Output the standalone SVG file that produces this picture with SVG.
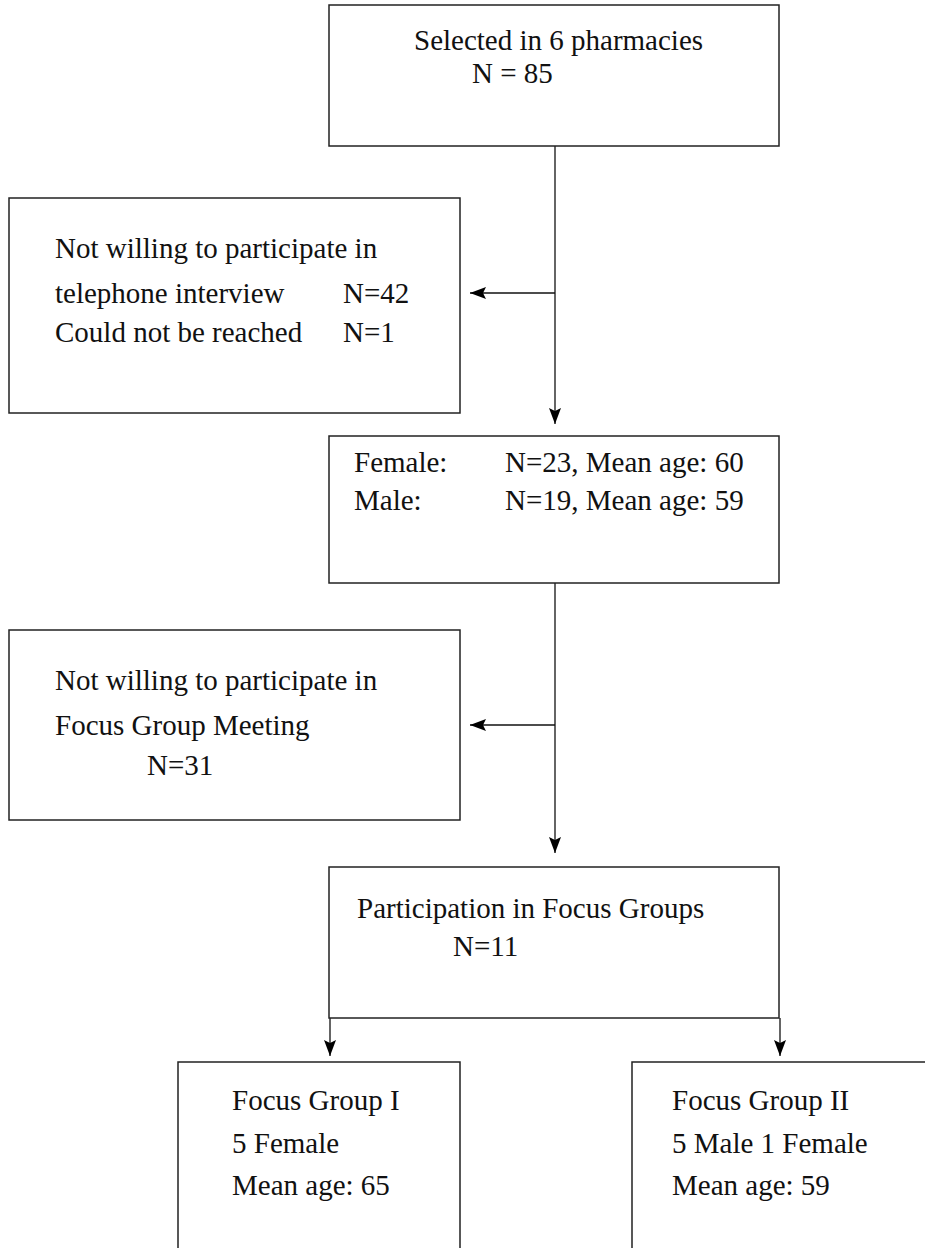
<svg xmlns="http://www.w3.org/2000/svg" width="925" height="1248" viewBox="0 0 925 1248">
<defs>
<style>
.box{fill:#fff;stroke:#222;stroke-width:1.5}
.t{font-family:"Liberation Serif","Times New Roman",serif;font-size:29px;fill:#111}
.c{fill:none;stroke:#111;stroke-width:1.3}
</style>
<marker id="ah" viewBox="0 0 16 12" refX="16" refY="6" markerWidth="16" markerHeight="12" markerUnits="userSpaceOnUse" orient="auto">
<path d="M0,0 L16,6 L0,12 L3,6 z" fill="#000"/>
</marker>
</defs>
<rect width="925" height="1248" fill="#fff"/>
<g id="connectors">
<line class="c" x1="555" y1="146" x2="555" y2="424" marker-end="url(#ah)"/>
<line class="c" x1="555" y1="293" x2="470" y2="293" marker-end="url(#ah)"/>
<line class="c" x1="555" y1="583" x2="555" y2="853" marker-end="url(#ah)"/>
<line class="c" x1="555" y1="725" x2="470" y2="725" marker-end="url(#ah)"/>
<line class="c" x1="330" y1="1018" x2="330" y2="1056" marker-end="url(#ah)"/>
<line class="c" x1="780" y1="1018" x2="780" y2="1056" marker-end="url(#ah)"/>
</g>
<g id="n_selected">
<rect class="box" x="329" y="5" width="450" height="141"/>
<text class="t" x="414" y="50">Selected in 6 pharmacies</text>
<text class="t" x="472" y="83">N = 85</text>
</g>
<g id="n_excluded1">
<rect class="box" x="9" y="198" width="451" height="215"/>
<text class="t" x="55" y="258">Not willing to participate in</text>
<text class="t" x="55" y="303">telephone interview</text>
<text class="t" x="343" y="303">N=42</text>
<text class="t" x="55" y="342">Could not be reached</text>
<text class="t" x="343" y="342">N=1</text>
</g>
<g id="n_interviewed">
<rect class="box" x="329" y="436" width="450" height="147"/>
<text class="t" x="354" y="472">Female:</text>
<text class="t" x="505" y="472">N=23, Mean age: 60</text>
<text class="t" x="354" y="510">Male:</text>
<text class="t" x="505" y="510">N=19, Mean age: 59</text>
</g>
<g id="n_excluded2">
<rect class="box" x="9" y="630" width="451" height="190"/>
<text class="t" x="55" y="690">Not willing to participate in</text>
<text class="t" x="55" y="735">Focus Group Meeting</text>
<text class="t" x="147" y="775">N=31</text>
</g>
<g id="n_participation">
<rect class="box" x="329" y="867" width="450" height="151"/>
<text class="t" x="357" y="918">Participation in Focus Groups</text>
<text class="t" x="453" y="956">N=11</text>
</g>
<g id="n_fg1">
<path class="box" d="M178,1260 V1062 H460 V1260"/>
<text class="t" x="232" y="1110">Focus Group I</text>
<text class="t" x="232" y="1153">5 Female</text>
<text class="t" x="232" y="1195">Mean age: 65</text>
</g>
<g id="n_fg2">
<path class="box" d="M632,1260 V1062 H940"/>
<text class="t" x="672" y="1110">Focus Group II</text>
<text class="t" x="672" y="1153">5 Male 1 Female</text>
<text class="t" x="672" y="1195">Mean age: 59</text>
</g>
</svg>
